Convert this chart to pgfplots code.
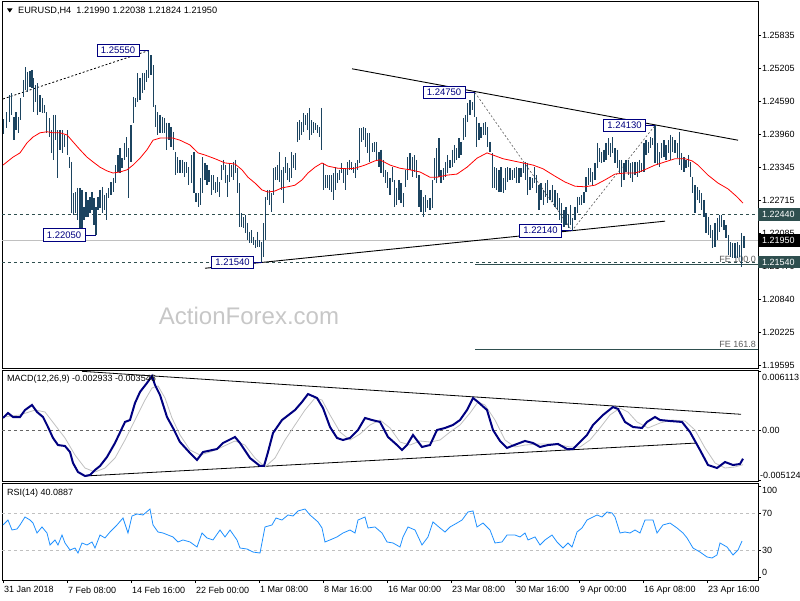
\documentclass[border=0pt]{standalone}
\usepackage{pgfplots}
\usepackage{pgfplotstable}
\pgfplotsset{compat=1.18}
\usepackage{fontspec}
\setmainfont{Liberation Sans}

\definecolor{barc}{RGB}{28,68,96}
\definecolor{slate}{RGB}{47,79,79}
\definecolor{mtnavy}{RGB}{0,0,128}
\definecolor{rsiblue}{RGB}{30,144,255}
\definecolor{silverc}{RGB}{192,192,192}
\definecolor{fetext}{RGB}{90,90,90}

% H4 bars: x (screen position), high, low
\pgfplotstableread{
x h l
3.3 1.2425 1.2397
6.7 1.2438 1.2408
9.3 1.2470 1.2419
11.7 1.2474 1.2433
14.0 1.2429 1.2385
16.0 1.2438 1.2404
18.3 1.2429 1.2399
20.7 1.2465 1.2423
23.3 1.2499 1.2467
25.7 1.2523 1.2480
27.7 1.2514 1.2476
30.0 1.2516 1.2486
32.0 1.2518 1.2484
33.9 1.2503 1.2438
35.7 1.2489 1.2457
37.7 1.2493 1.2433
40.0 1.2470 1.2438
42.3 1.2465 1.2436
44.3 1.2452 1.2436
46.7 1.2438 1.2399
49.3 1.2427 1.2391
51.7 1.2404 1.2361
53.5 1.2433 1.2348
55.7 1.2433 1.2385
57.7 1.2404 1.2314
60.0 1.2404 1.2367
62.3 1.2404 1.2361
64.7 1.2395 1.2372
67.7 1.2404 1.2357
69.7 1.2353 1.2332
71.5 1.2344 1.2247
73.3 1.2285 1.2244
75.7 1.2287 1.2247
77.7 1.2295 1.2234
80.0 1.2295 1.2212
81.9 1.2291 1.2212
84.0 1.2259 1.2234
86.0 1.2287 1.2240
88.0 1.2272 1.2240
90.0 1.2278 1.2247
92.0 1.2287 1.2253
94.0 1.2276 1.2225
96.0 1.2259 1.2205
98.0 1.2278 1.2253
100.0 1.2291 1.2257
102.3 1.2297 1.2247
104.3 1.2281 1.2253
106.7 1.2285 1.2234
108.7 1.2295 1.2276
111.0 1.2306 1.2281
113.3 1.2314 1.2287
115.7 1.2338 1.2304
118.0 1.2357 1.2325
120.0 1.2370 1.2323
122.0 1.2351 1.2332
124.3 1.2380 1.2348
126.3 1.2391 1.2353
128.7 1.2370 1.2276
131.0 1.2414 1.2344
133.3 1.2467 1.2418
135.3 1.2465 1.2448
137.7 1.2512 1.2457
140.0 1.2503 1.2461
142.3 1.2512 1.2474
144.3 1.2512 1.2480
146.7 1.2518 1.2495
148.7 1.2555 1.2503
151.0 1.2546 1.2508
153.3 1.2527 1.2448
155.7 1.2452 1.2410
157.7 1.2438 1.2395
160.0 1.2433 1.2399
162.3 1.2429 1.2399
164.7 1.2427 1.2399
166.7 1.2418 1.2367
169.0 1.2418 1.2385
171.0 1.2410 1.2372
173.3 1.2401 1.2367
175.7 1.2363 1.2319
177.7 1.2353 1.2323
180.0 1.2348 1.2323
182.3 1.2348 1.2323
184.3 1.2344 1.2315
186.7 1.2344 1.2323
188.7 1.2334 1.2300
191.7 1.2357 1.2304
194.0 1.2363 1.2285
196.0 1.2285 1.2268
198.3 1.2285 1.2259
200.3 1.2314 1.2263
202.7 1.2353 1.2285
205.0 1.2342 1.2310
207.0 1.2338 1.2300
209.0 1.2329 1.2306
211.3 1.2319 1.2281
213.3 1.2319 1.2291
215.7 1.2306 1.2285
217.7 1.2315 1.2287
219.7 1.2306 1.2278
221.7 1.2338 1.2310
223.7 1.2348 1.2329
225.7 1.2338 1.2304
227.7 1.2319 1.2278
229.7 1.2342 1.2306
231.7 1.2338 1.2315
233.7 1.2344 1.2310
235.7 1.2348 1.2323
237.7 1.2332 1.2285
239.7 1.2304 1.2221
241.7 1.2247 1.2221
243.7 1.2240 1.2219
245.7 1.2244 1.2210
247.7 1.2229 1.2196
249.7 1.2212 1.2191
251.7 1.2215 1.2191
253.7 1.2202 1.2187
255.7 1.2196 1.2181
257.7 1.2212 1.2183
259.7 1.2196 1.2183
261.7 1.2193 1.2154
263.7 1.2229 1.2164
265.7 1.2278 1.2196
267.7 1.2291 1.2272
269.7 1.2291 1.2263
271.7 1.2285 1.2249
273.7 1.2332 1.2281
275.7 1.2334 1.2310
277.7 1.2338 1.2310
279.7 1.2363 1.2306
281.7 1.2329 1.2291
283.7 1.2334 1.2266
285.7 1.2353 1.2323
287.7 1.2342 1.2310
289.7 1.2332 1.2306
291.7 1.2363 1.2314
293.7 1.2357 1.2332
295.7 1.2361 1.2329
297.7 1.2419 1.2382
299.7 1.2423 1.2385
301.7 1.2419 1.2395
303.7 1.2436 1.2401
305.7 1.2433 1.2414
307.7 1.2436 1.2404
309.7 1.2446 1.2385
311.7 1.2423 1.2395
313.7 1.2419 1.2399
315.7 1.2418 1.2404
317.7 1.2414 1.2399
319.7 1.2410 1.2391
321.7 1.2446 1.2367
323.7 1.2342 1.2291
325.7 1.2319 1.2295
327.7 1.2319 1.2295
329.7 1.2319 1.2291
331.7 1.2319 1.2287
333.7 1.2323 1.2272
335.7 1.2334 1.2291
337.7 1.2323 1.2304
339.7 1.2329 1.2310
341.7 1.2342 1.2323
343.7 1.2332 1.2304
345.7 1.2332 1.2291
347.7 1.2344 1.2319
349.7 1.2348 1.2329
351.7 1.2344 1.2329
353.7 1.2334 1.2323
355.7 1.2342 1.2314
357.7 1.2348 1.2329
359.7 1.2408 1.2342
361.7 1.2408 1.2382
363.7 1.2410 1.2385
365.7 1.2408 1.2372
367.7 1.2399 1.2361
369.7 1.2399 1.2344
372.3 1.2380 1.2363
374.7 1.2382 1.2363
376.7 1.2382 1.2348
379.0 1.2363 1.2334
381.0 1.2367 1.2323
383.3 1.2348 1.2315
385.7 1.2329 1.2304
387.7 1.2325 1.2295
390.0 1.2314 1.2281
392.3 1.2334 1.2306
394.3 1.2310 1.2259
396.7 1.2295 1.2263
399.0 1.2310 1.2272
401.0 1.2304 1.2266
403.3 1.2285 1.2259
405.7 1.2329 1.2297
407.7 1.2353 1.2310
410.0 1.2361 1.2329
412.3 1.2353 1.2315
414.3 1.2357 1.2325
416.7 1.2348 1.2314
419.0 1.2319 1.2259
421.0 1.2291 1.2249
423.3 1.2278 1.2240
425.3 1.2281 1.2249
427.7 1.2272 1.2257
430.0 1.2276 1.2253
432.3 1.2310 1.2257
434.3 1.2351 1.2310
436.7 1.2370 1.2304
439.0 1.2389 1.2315
441.0 1.2329 1.2304
443.3 1.2332 1.2310
445.7 1.2344 1.2315
447.7 1.2357 1.2323
450.0 1.2348 1.2332
452.3 1.2367 1.2334
454.3 1.2376 1.2342
456.7 1.2370 1.2348
459.0 1.2389 1.2351
461.0 1.2382 1.2357
463.3 1.2427 1.2385
465.7 1.2433 1.2391
467.7 1.2455 1.2419
470.0 1.2461 1.2433
472.3 1.2457 1.2442
474.3 1.2475 1.2429
476.7 1.2429 1.2372
479.0 1.2418 1.2385
481.0 1.2410 1.2389
483.3 1.2418 1.2395
485.7 1.2419 1.2395
487.7 1.2410 1.2372
490.0 1.2382 1.2363
492.3 1.2361 1.2295
494.3 1.2334 1.2295
496.7 1.2332 1.2291
499.0 1.2329 1.2287
501.0 1.2334 1.2287
503.3 1.2314 1.2285
505.7 1.2332 1.2291
507.7 1.2334 1.2306
510.0 1.2332 1.2310
512.3 1.2329 1.2310
514.3 1.2332 1.2314
516.7 1.2334 1.2304
519.0 1.2332 1.2304
521.0 1.2332 1.2315
523.3 1.2342 1.2323
525.7 1.2344 1.2310
527.7 1.2342 1.2281
530.0 1.2315 1.2291
532.3 1.2314 1.2295
534.3 1.2334 1.2304
536.7 1.2319 1.2285
539.0 1.2300 1.2253
541.0 1.2304 1.2272
543.3 1.2291 1.2263
545.7 1.2304 1.2278
547.7 1.2310 1.2266
550.0 1.2291 1.2272
552.3 1.2300 1.2268
555.0 1.2291 1.2259
557.3 1.2285 1.2253
559.3 1.2276 1.2234
561.7 1.2266 1.2229
564.0 1.2253 1.2221
566.0 1.2259 1.2225
568.3 1.2244 1.2219
570.7 1.2263 1.2225
572.7 1.2238 1.2214
575.0 1.2259 1.2234
577.3 1.2278 1.2247
579.3 1.2278 1.2263
581.7 1.2281 1.2263
584.0 1.2287 1.2266
586.0 1.2315 1.2287
588.3 1.2332 1.2300
590.7 1.2332 1.2306
592.7 1.2325 1.2300
595.0 1.2342 1.2310
597.3 1.2380 1.2332
599.3 1.2370 1.2344
601.7 1.2363 1.2342
604.0 1.2367 1.2344
606.0 1.2380 1.2348
608.3 1.2389 1.2357
610.7 1.2380 1.2353
612.7 1.2391 1.2361
615.0 1.2370 1.2342
617.3 1.2367 1.2332
619.3 1.2348 1.2323
621.7 1.2348 1.2297
624.0 1.2342 1.2310
626.0 1.2348 1.2325
628.3 1.2348 1.2319
630.7 1.2342 1.2314
632.7 1.2344 1.2306
635.0 1.2344 1.2319
637.3 1.2344 1.2315
639.3 1.2348 1.2323
641.7 1.2342 1.2325
644.0 1.2380 1.2325
646.0 1.2385 1.2357
648.3 1.2382 1.2361
650.7 1.2391 1.2370
652.7 1.2389 1.2376
655.0 1.2413 1.2342
657.3 1.2380 1.2338
659.3 1.2363 1.2334
661.7 1.2380 1.2351
664.0 1.2385 1.2353
666.0 1.2376 1.2348
668.3 1.2385 1.2361
670.7 1.2395 1.2348
672.7 1.2391 1.2363
675.0 1.2385 1.2361
677.3 1.2380 1.2351
679.3 1.2401 1.2338
681.7 1.2361 1.2329
684.0 1.2353 1.2325
686.0 1.2348 1.2332
688.3 1.2357 1.2334
690.7 1.2344 1.2315
692.7 1.2315 1.2285
695.0 1.2300 1.2247
697.3 1.2297 1.2272
699.3 1.2291 1.2266
701.7 1.2285 1.2253
704.0 1.2272 1.2240
706.0 1.2247 1.2210
708.3 1.2240 1.2206
710.7 1.2225 1.2200
712.7 1.2215 1.2181
715.0 1.2229 1.2183
717.3 1.2238 1.2196
719.3 1.2244 1.2212
721.7 1.2244 1.2221
724.0 1.2234 1.2215
726.0 1.2225 1.2200
728.3 1.2206 1.2168
730.7 1.2193 1.2164
732.7 1.2191 1.2162
735.0 1.2191 1.2162
737.3 1.2193 1.2162
739.3 1.2187 1.2164
741.7 1.2210 1.2145
744.0 1.2204 1.2182
}\bars

% moving average (red)
\pgfplotstableread{
x m
3 1.2338
13 1.2353
20 1.2361
27 1.2380
33 1.2391
40 1.2399
47 1.2401
53 1.2399
60 1.2399
67 1.2395
73 1.2382
80 1.2367
87 1.2353
93 1.2344
100 1.2334
107 1.2327
113 1.2323
120 1.2325
127 1.2329
133 1.2338
140 1.2351
147 1.2367
153 1.2385
160 1.2389
167 1.2389
173 1.2389
180 1.2385
190 1.2376
198 1.2361
205 1.2357
215 1.2350
225 1.2342
235 1.2340
242 1.2329
248 1.2315
255 1.2304
262 1.2291
268 1.2287
275 1.2289
282 1.2295
288 1.2297
295 1.2300
302 1.2310
308 1.2323
315 1.2334
322 1.2342
328 1.2336
338 1.2332
348 1.2331
355 1.2332
365 1.2338
375 1.2346
380 1.2348
390 1.2338
400 1.2332
410 1.2329
420 1.2325
430 1.2315
437 1.2315
447 1.2319
457 1.2321
467 1.2334
477 1.2351
487 1.2361
493 1.2357
503 1.2350
513 1.2346
523 1.2342
533 1.2338
543 1.2331
555 1.2317
565 1.2306
575 1.2298
585 1.2297
595 1.2300
605 1.2310
615 1.2321
625 1.2323
635 1.2323
642 1.2327
648 1.2332
655 1.2338
665 1.2344
675 1.2350
685 1.2350
692 1.2346
698 1.2338
708 1.2319
718 1.2304
728 1.2293
737 1.2278
743 1.2266
}\ma

% MACD main line
\pgfplotstableread{
x v
3 0.00127
8 0.00178
13 0.00137
20 0.00137
25 0.00209
32 0.00261
37 0.00189
43 0.00137
48 0.00034
53 -0.00079
58 -0.00152
65 -0.00162
70 -0.00224
73 -0.00337
78 -0.00430
85 -0.00471
90 -0.00461
95 -0.00409
100 -0.00368
107 -0.00275
115 -0.00131
125 0.00086
130 0.00106
135 0.00281
140 0.00395
147 0.00488
152 0.00560
155 0.00467
160 0.00364
167 0.00137
173 0.00024
180 -0.00121
190 -0.00234
197 -0.00306
203 -0.00224
217 -0.00193
223 -0.00131
235 -0.00069
240 -0.00131
250 -0.00286
260 -0.00368
264 -0.00368
268 -0.00224
273 -0.00028
282 0.00106
295 0.00209
302 0.00292
308 0.00374
317 0.00333
323 0.00230
330 0.00034
337 -0.00079
343 -0.00100
350 -0.00079
358 0.00003
365 0.00127
372 0.00106
380 0.00086
388 -0.00069
397 -0.00152
402 -0.00203
407 -0.00152
413 -0.00048
422 -0.00172
430 -0.00152
437 0.00003
445 0.00024
453 0.00055
460 0.00106
467 0.00209
473 0.00333
478 0.00292
487 0.00209
493 0.00003
500 -0.00110
507 -0.00182
517 -0.00141
525 -0.00110
533 -0.00131
540 -0.00172
548 -0.00152
558 -0.00141
567 -0.00193
573 -0.00193
580 -0.00121
587 -0.00048
593 0.00055
603 0.00158
613 0.00240
618 0.00220
625 0.00086
633 0.00034
642 0.00024
647 0.00086
655 0.00137
660 0.00106
670 0.00096
682 0.00086
690 -0.00018
700 -0.00203
708 -0.00358
717 -0.00389
725 -0.00327
733 -0.00358
740 -0.00347
743 -0.002933
}\macd

% MACD signal line
\pgfplotstableread{
x v
3 0.00137
20 0.00158
35 0.00209
45 0.00189
55 0.00055
65 -0.00079
75 -0.00255
85 -0.00389
95 -0.00430
105 -0.00389
115 -0.00286
125 -0.00100
135 0.00106
145 0.00312
152 0.00436
158 0.00457
165 0.00333
172 0.00127
180 -0.00048
190 -0.00203
200 -0.00255
210 -0.00224
220 -0.00182
235 -0.00110
245 -0.00152
255 -0.00286
265 -0.00378
275 -0.00286
285 -0.00100
295 0.00055
305 0.00209
315 0.00333
322 0.00312
330 0.00158
340 -0.00018
350 -0.00100
360 -0.00038
370 0.00055
380 0.00106
390 0.00024
400 -0.00121
410 -0.00152
420 -0.00110
430 -0.00121
440 -0.00100
450 -0.00018
460 0.00055
470 0.00178
478 0.00292
485 0.00261
495 0.00106
505 -0.00100
515 -0.00172
525 -0.00152
540 -0.00141
555 -0.00141
570 -0.00172
580 -0.00172
590 -0.00100
600 0.00024
610 0.00158
620 0.00230
628 0.00189
637 0.00086
648 0.00024
660 0.00075
672 0.00106
685 0.00096
695 0.00003
705 -0.00182
715 -0.00337
725 -0.00389
735 -0.00378
743 -0.003546
}\signal

% RSI(14)
\pgfplotstableread{
x r
3 57.7
8 63.1
12 52.2
17 53.3
20 57.7
25 66.4
30 63.1
33 59.8
37 48.9
42 55.5
47 48.9
50 35.8
55 41.3
58 35.8
62 46.7
65 38.0
70 30.3
75 32.5
78 27.0
82 38.0
87 35.8
92 39.1
95 32.5
100 46.7
105 43.5
110 50.0
117 57.7
123 65.3
128 48.9
132 67.5
137 69.7
143 68.6
150 75.1
153 57.7
158 50.0
163 48.9
168 46.7
173 44.6
178 39.1
183 41.3
190 39.1
197 33.6
202 48.9
207 43.5
213 41.3
220 52.2
225 44.6
230 52.2
237 41.3
240 32.5
247 31.4
253 28.1
260 27.0
265 55.5
272 57.7
276 65.3
282 63.1
288 68.6
293 67.5
298 73.0
305 75.1
310 68.6
318 61.0
322 54.4
325 39.1
330 41.3
337 44.6
343 48.9
350 52.2
355 48.9
358 63.1
365 66.4
368 54.4
375 55.5
382 48.9
387 39.1
393 38.0
400 33.6
403 44.6
408 55.5
415 52.2
422 35.8
428 44.6
433 61.0
440 54.4
445 50.0
450 55.5
457 59.8
462 63.1
468 71.9
473 73.0
477 55.5
483 59.8
490 52.2
495 38.0
502 39.1
507 46.7
515 46.7
520 44.6
525 48.9
528 41.3
535 44.6
540 35.8
545 41.3
552 46.7
557 39.1
563 32.5
568 38.0
572 33.6
577 50.0
582 54.4
587 63.1
593 66.4
597 68.6
602 66.4
607 71.9
612 70.8
615 66.4
620 48.9
625 50.0
630 48.9
635 52.2
640 48.9
645 63.1
653 63.1
657 48.9
663 57.7
670 59.8
677 54.4
683 48.9
687 43.5
693 32.5
700 28.1
707 22.7
712 21.6
717 24.9
720 38.0
727 33.6
733 24.9
738 30.3
742 40.09
}\rsi

\tikzset{
  plabel/.style={draw=mtnavy, fill=white, text=mtnavy, line width=0.8pt,
    inner xsep=1pt, inner ysep=1pt, minimum width=42pt, minimum height=12.5pt,
    font=\fontsize{9.5}{10}\selectfont},
}
\pgfplotsset{
  mtpanel/.style={
    scale only axis, width=756pt, xmin=2, xmax=758,
    anchor=south west,
    axis line style={black, line width=0.8pt},
    xtick=\empty,
    ytick pos=right, yticklabel pos=right,
    tick align=outside, major tick length=3pt,
    tick style={black, line width=0.6pt},
    ticklabel style={font=\fontsize{9}{10}\selectfont},
    yticklabel style={anchor=west, inner xsep=1pt},
    scaled y ticks=false,
    /pgf/number format/assume math mode=true,
  },
}

\begin{document}
\begin{tikzpicture}[x=1pt,y=1pt]
\useasboundingbox (0,0) rectangle (800,600);

% ---------------- price panel ----------------
\begin{axis}[mtpanel, at={(2pt,232pt)}, height=367pt,
  ymin=1.19545, ymax=1.26481,
  ytick={1.19595,1.20225,1.20840,1.21470,1.22085,1.22715,1.23345,1.23960,1.24590,1.25205,1.25835},
  yticklabels={1.19595,1.20225,1.20840,1.21470,1.22085,1.22715,1.23345,1.23960,1.24590,1.25205,1.25835},
]
\node[font=\fontsize{24}{24}\selectfont, text=black!22] at (axis cs:249,1.2053) {ActionForex.com};

\addplot[silverc, line width=0.9pt] coordinates {(2,1.2195) (758,1.2195)};
\addplot[slate, line width=0.8pt, dash pattern=on 3pt off 3pt] coordinates {(2,1.2244) (758,1.2244)};
\addplot[slate, line width=0.8pt, dash pattern=on 3pt off 3pt] coordinates {(2,1.2154) (758,1.2154)};
\addplot[slate, line width=0.9pt] coordinates {(475,1.2151) (758,1.2151)};
\addplot[slate, line width=0.9pt] coordinates {(475,1.1990) (758,1.1990)};
\node[anchor=south east, text=fetext, inner sep=1pt, font=\fontsize{9}{10}\selectfont] at (axis cs:757,1.2151) {FE 100.0};
\node[anchor=south east, text=fetext, inner sep=1pt, font=\fontsize{9}{10}\selectfont] at (axis cs:757,1.1990) {FE 161.8};

% trend lines
\addplot[black, line width=0.9pt] coordinates {(205,1.2143) (665,1.2232)};
\addplot[black, line width=0.9pt] coordinates {(352,1.2520) (738,1.2385)};
\addplot[black, line width=0.8pt, dash pattern=on 2pt off 2pt] coordinates {(3,1.2463) (148,1.2554)};
\addplot[black!65, line width=0.6pt, dash pattern=on 2pt off 2pt] coordinates {(475,1.2475) (572,1.2214) (655,1.2413)};

% bars (high to low)
\addplot[draw=none, mark=none,
  error bars/.cd, y dir=minus, y explicit, error mark=none,
  error bar style={draw=barc, solid, line width=1.2pt}]
  table[x=x, y=h, y error minus expr=\thisrow{h}-\thisrow{l}] {\bars};

\addplot[red, line width=0.8pt] table[x=x, y=m] {\ma};

% swing labels
\node[plabel] at (axis cs:118,1.2555) {1.25550};
\draw[mtnavy, line width=0.8pt] (axis cs:139,1.2554) -- (axis cs:149,1.2554);
\node[plabel] at (axis cs:64,1.2206) {1.22050};
\draw[mtnavy, line width=0.8pt] (axis cs:85,1.2206) -- (axis cs:96,1.2206);
\node[plabel] at (axis cs:232.5,1.2154) {1.21540};
\draw[mtnavy, line width=0.8pt] (axis cs:253,1.2154) -- (axis cs:262,1.2154);
\node[plabel] at (axis cs:444,1.2475) {1.24750};
\draw[mtnavy, line width=0.8pt] (axis cs:465,1.2475) -- (axis cs:475,1.2475);
\node[plabel] at (axis cs:540.5,1.2214) {1.22140};
\draw[mtnavy, line width=0.8pt] (axis cs:562,1.2214) -- (axis cs:572,1.2214);
\node[plabel] at (axis cs:624.5,1.2413) {1.24130};
\draw[mtnavy, line width=0.8pt] (axis cs:645,1.2413) -- (axis cs:655,1.2413);
\end{axis}

% ---------------- MACD panel ----------------
\begin{axis}[mtpanel, at={(2pt,119pt)}, height=111pt,
  ymin=-0.005227, ymax=0.006216,
  ytick={-0.005124,0,0.006113}, yticklabels={,0.00,},
]
\addplot[black!60, line width=0.7pt, dash pattern=on 3pt off 3pt] coordinates {(2,0) (758,0)};
\addplot[black, line width=0.8pt] coordinates {(82,0.00608) (741,0.00165)};
\addplot[black, line width=0.8pt] coordinates {(85,-0.00471) (697,-0.00131)};
\addplot[silverc, line width=0.8pt] table[x=x, y=v] {\signal};
\addplot[mtnavy, line width=2pt] table[x=x, y=v] {\macd};
\end{axis}

% ---------------- RSI panel ----------------
\begin{axis}[mtpanel, at={(2pt,20pt)}, height=97pt,
  ymin=-2.46, ymax=103.55,
  ytick={0,30,70,100}, yticklabels={,30,70,},
  xtick={3,67,131,195,259,323,387,451,515,579,643,707},
  xticklabels={31 Jan 2018,7 Feb 08:00,14 Feb 16:00,22 Feb 00:00,1 Mar 08:00,8 Mar 16:00,16 Mar 00:00,23 Mar 08:00,30 Mar 16:00,9 Apr 00:00,16 Apr 08:00,23 Apr 16:00},
  xtick pos=bottom,
  xticklabel style={anchor=north west, inner xsep=0pt, xshift=1pt},
]
\addplot[silverc, line width=0.7pt, dash pattern=on 3pt off 3pt] coordinates {(2,70) (758,70)};
\addplot[silverc, line width=0.7pt, dash pattern=on 3pt off 3pt] coordinates {(2,30) (758,30)};
\addplot[rsiblue, line width=0.8pt] table[x=x, y=r] {\rsi};
\end{axis}

% ---------------- headers and right-side labels ----------------
\fill[black] (7,591.5) -- (12.5,591.5) -- (9.75,587.5) -- cycle;
\node[anchor=west, inner sep=0pt, font=\fontsize{9.2}{10}\selectfont] at (18,589.3) {EURUSD,H4\ \ 1.21990 1.22038 1.21824 1.21950};
\node[anchor=west, inner sep=0pt, font=\fontsize{9}{10}\selectfont] at (7,220.7) {MACD(12,26,9) -0.002933 -0.003546};
\node[anchor=west, inner sep=0pt, font=\fontsize{9}{10}\selectfont] at (7,107.3) {RSI(14) 40.0887};

\begin{scope}[font=\fontsize{9}{10}\selectfont]
\node[anchor=west, inner sep=0pt] at (762,223) {0.006113};
\node[anchor=west, inner sep=0pt] at (760,125) {-0.005124};
\node[anchor=west, inner sep=0pt] at (762,110) {100};
\node[anchor=west, inner sep=0pt] at (762,28) {0};
\fill[slate] (758,379) rectangle (800,391.5);
\node[anchor=west, inner sep=0pt, text=white] at (762,385.3) {1.22440};
\fill[black] (758,353) rectangle (800,366);
\node[anchor=west, inner sep=0pt, text=white] at (762,359.4) {1.21950};
\fill[slate] (758,331.5) rectangle (800,344);
\node[anchor=west, inner sep=0pt, text=white] at (762,337.7) {1.21540};
\end{scope}
\end{tikzpicture}
\end{document}
